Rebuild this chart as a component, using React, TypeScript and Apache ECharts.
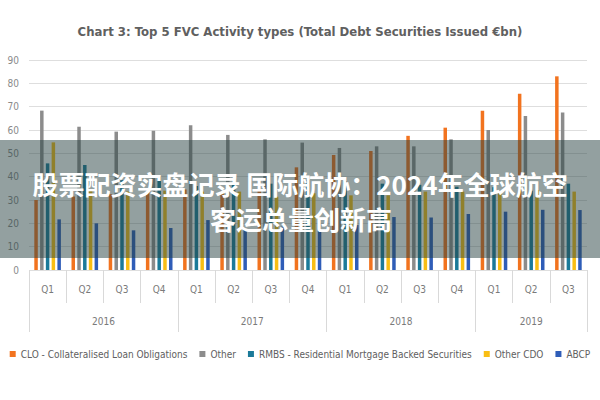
import React, { useEffect, useRef } from "react";
import * as echarts from "echarts";

const quarterLabels = ["Q1", "Q2", "Q3", "Q4", "Q1", "Q2", "Q3", "Q4", "Q1", "Q2", "Q3", "Q4", "Q1", "Q2", "Q3"];
const years = ["2016", "2017", "2018", "2019"];
const quartersPerYear = [4, 4, 4, 3];

const seriesNames = [
  "CLO - Collateralised Loan Obligations",
  "Other",
  "RMBS - Residential Mortgage Backed Securities",
  "Other CDO",
  "ABCP",
];
const cloValues = [30, 31.5, 32.5, 33.5, 34.5, 34, 34.5, 44, 49.3, 51, 57.5, 61, 68.3, 75.5, 83];
const otherValues = [68.3, 61.4, 59.3, 59.7, 62, 57.9, 56, 54.6, 52.3, 53, 53, 56, 60, 66, 67.5];
const rmbsValues = [45.7, 45, 38.5, 40, 36, 36.5, 37, 38.5, 38, 37, 36.5, 35.7, 35.5, 34, 37];
const otherCdoValues = [54.7, 34, 33.6, 34, 33.6, 33.6, 31.4, 32.9, 32, 32, 33.6, 33.6, 33.6, 34.3, 33.6];
const abcpValues = [21.7, 20, 17, 18, 21.4, 17.1, 18.6, 17, 19.3, 22.7, 22.5, 24, 25, 25.8, 25.7];
const seriesColors = ["#F2731F", "#8C8C8C", "#1B7A99", "#F9BE14", "#2F5DB8"];

const yTicks = [0, 10, 20, 30, 40, 50, 60, 70, 80, 90];

const titleText = "Chart 3: Top 5 FVC Activity types (Total Debt Securities Issued €bn)";
const overlayLine1 = "股票配资实盘记录 国际航协：2024年全球航空";
const overlayLine2 = "客运总量创新高";

const FONT = "'Liberation Sans Narrow', 'DejaVu Sans Condensed', 'Open Sans', sans-serif";
const CJK = "'Noto Sans CJK SC', sans-serif";

export default function App() {
  const ref = useRef<HTMLDivElement>(null);

  useEffect(() => {
    if (!ref.current) return;
    const chart = echarts.init(ref.current, null, { renderer: "svg" });

    const boundaries: number[] = [0];
    const centers: number[] = [];
    quartersPerYear.forEach((n) => {
      const start = boundaries[boundaries.length - 1];
      boundaries.push(start + n);
      centers.push(start + n / 2);
    });
    const total = boundaries[boundaries.length - 1];

    const allValues = [cloValues, otherValues, rmbsValues, otherCdoValues, abcpValues];

    chart.setOption({
      animation: false,
      backgroundColor: "#ffffff",
      title: {
        text: titleText,
        left: "center",
        top: 20,
        textStyle: { fontFamily: FONT, fontSize: 13, fontWeight: "bold", color: "#606060" },
      },
      legend: {
        bottom: 36,
        left: "center",
        icon: "rect",
        itemWidth: 6,
        itemHeight: 6,
        itemGap: 12,
        textStyle: { fontFamily: FONT, fontSize: 10, color: "#606060" },
        data: seriesNames,
      },
      grid: { left: 29, right: 13, top: 60, bottom: 130, containLabel: false },
      xAxis: [
        {
          type: "category",
          data: quarterLabels,
          position: "bottom",
          offset: 0,
          axisLine: { show: false },
          axisTick: { show: true, interval: 0, length: 33, lineStyle: { color: "#D9D9D9" } },
          axisLabel: { interval: 0, margin: 14, fontFamily: FONT, fontSize: 10, color: "#7A7A7A" },
          splitLine: { show: false },
        },
        {
          type: "value",
          min: 0,
          max: total,
          position: "bottom",
          offset: 0,
          axisLine: { show: false },
          splitLine: { show: false },
          axisTick: { show: true, customValues: boundaries, length: 62, lineStyle: { color: "#D9D9D9" } },
          axisLabel: {
            customValues: centers,
            margin: 46,
            fontFamily: FONT,
            fontSize: 10,
            color: "#7A7A7A",
            formatter: (v: number) => {
              const i = centers.findIndex((c) => Math.abs(c - v) < 1e-6);
              return i >= 0 ? years[i] : "";
            },
          },
        },
      ],
      yAxis: {
        type: "value",
        min: yTicks[0],
        max: yTicks[yTicks.length - 1],
        interval: 10,
        axisLine: { show: false },
        axisTick: { show: false },
        axisLabel: { margin: 10, fontFamily: FONT, fontSize: 10, color: "#8A8A8A" },
        splitLine: { lineStyle: { color: "#DEDEDE", width: 1 } },
      },
      series: seriesNames.map((name, i) => ({
        name,
        type: "bar",
        xAxisIndex: 0,
        data: allValues[i],
        barWidth: 3.5,
        barGap: "65%",
        itemStyle: { color: seriesColors[i] },
      })),
      graphic: [
        {
          type: "rect",
          z: 100,
          shape: { x: 0, y: 140, width: 600, height: 118 },
          style: { fill: "rgba(40,65,65,0.5)" },
        },
        {
          type: "text",
          z: 101,
          x: 300,
          y: 183,
          style: {
            text: overlayLine1,
            fill: "#ffffff",
            font: `bold 26px ${CJK}`,
            textAlign: "center",
            textVerticalAlign: "middle",
          },
        },
        {
          type: "text",
          z: 101,
          x: 301,
          y: 218,
          style: {
            text: overlayLine2,
            fill: "#ffffff",
            font: `bold 26px ${CJK}`,
            textAlign: "center",
            textVerticalAlign: "middle",
          },
        },
      ],
    });

    return () => chart.dispose();
  }, []);

  return (
    <div
      ref={ref}
      style={{ position: "absolute", left: 0, top: 0, width: 600, height: 400 }}
    />
  );
}
